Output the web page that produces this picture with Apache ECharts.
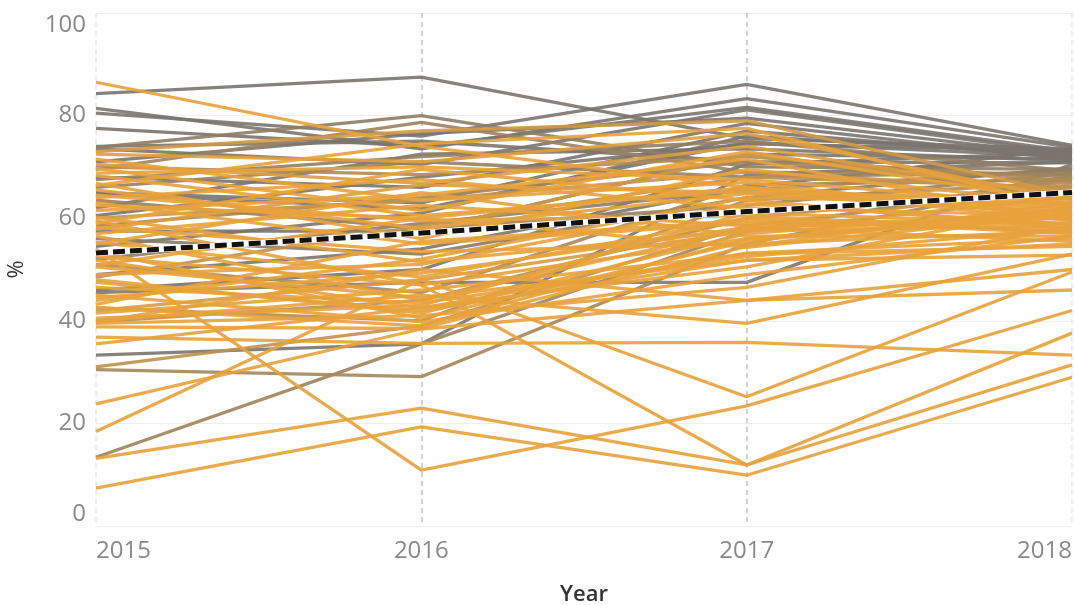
<!DOCTYPE html>
<html>
<head>
<meta charset="utf-8">
<script src="https://cdn.jsdelivr.net/npm/echarts@6/dist/echarts.min.js"></script>
<style>
  html, body { margin: 0; padding: 0; background: #fff; }
  #chart { width: 1074px; height: 605px; }
</style>
</head>
<body>
<div id="chart"></div>
<script>
// Category axis
const years = ['2015', '2016', '2017', '2018'];
// Value axis ticks (%)
const yTicks = [0, 20, 40, 60, 80, 100];
// Average across all entities, per year (%)
const avgLine = [53.2, 57.1, 61.3, 65.0];

// One row per entity: [2015, 2016, 2017, 2018] (%)
const lines = [
  [84.3, 87.5, 75.5, 73.5],
  [80.5, 76.0, 86.1, 74.2],
  [81.4, 73.5, 83.3, 73.8],
  [77.5, 74.0, 81.6, 73.0],
  [73.5, 70.5, 81.1, 72.6],
  [71.0, 76.5, 79.5, 72.2],
  [65.0, 63.0, 77.0, 71.8],
  [60.5, 68.0, 74.5, 73.2],
  [57.5, 57.5, 72.5, 71.5],
  [46.0, 50.0, 70.5, 72.8],
  [45.5, 47.5, 47.5, 70.5],
  [33.3, 35.5, 68.5, 71.0],
  [30.5, 29.1, 55.0, 67.8],
  [13.4, 35.5, 57.5, 68.2],
  [62.0, 72.5, 73.5, 71.2],
  [54.5, 61.0, 76.0, 72.4],
  [49.0, 54.0, 66.0, 73.6],
  [68.0, 66.0, 78.5, 71.4],
  [74.0, 75.0, 71.0, 70.8],
  [64.8, 61.8, 74.8, 72.0],
  [73.8, 80.0, 70.0, 69.5],
  [69.5, 78.7, 69.0, 68.5],
  [66.0, 71.0, 68.0, 69.0],
  [58.5, 64.0, 71.0, 68.0],
  [51.0, 45.5, 66.5, 67.5],
  [42.5, 40.0, 63.5, 67.0],
  [39.8, 44.0, 60.0, 66.5],
  [31.0, 39.0, 58.5, 66.0],
  [56.0, 53.0, 64.0, 69.8],
  [63.5, 58.0, 62.5, 68.8],
  [67.5, 72.0, 75.0, 69.2],
  [70.0, 68.5, 72.0, 67.2],
  [60.0, 63.5, 69.0, 65.5],
  [52.0, 59.0, 65.5, 69.5],
  [48.5, 58.5, 68.0, 66.0],
  [86.5, 74.0, 66.0, 62.0],
  [73.0, 77.0, 79.0, 64.5],
  [72.5, 71.0, 76.5, 63.5],
  [70.5, 66.8, 74.0, 64.0],
  [69.7, 61.5, 73.0, 63.0],
  [68.8, 70.0, 67.5, 62.5],
  [68.3, 60.5, 65.5, 61.5],
  [66.4, 74.5, 77.5, 62.0],
  [65.5, 58.0, 64.8, 61.0],
  [64.0, 67.5, 62.0, 60.5],
  [63.0, 55.0, 59.0, 60.0],
  [61.5, 64.5, 71.5, 59.5],
  [60.2, 51.5, 57.6, 58.5],
  [59.0, 69.5, 63.5, 58.0],
  [58.2, 53.5, 55.0, 57.5],
  [57.0, 62.5, 58.5, 59.0],
  [55.3, 48.5, 60.0, 57.0],
  [55.0, 65.0, 56.5, 56.5],
  [51.8, 42.5, 53.2, 56.0],
  [50.8, 60.0, 54.3, 60.8],
  [50.5, 44.5, 51.8, 55.0],
  [49.0, 51.0, 62.8, 58.8],
  [48.0, 41.5, 57.0, 61.5],
  [44.0, 52.0, 64.0, 62.8],
  [43.2, 55.5, 59.5, 57.8],
  [42.6, 39.0, 56.0, 60.2],
  [41.5, 46.0, 53.0, 54.5],
  [40.5, 43.0, 61.0, 59.0],
  [39.8, 50.0, 44.0, 46.0],
  [38.8, 38.5, 54.5, 63.0],
  [36.8, 35.6, 35.8, 33.3],
  [23.8, 38.4, 44.0, 50.0],
  [18.4, 48.0, 25.2, 49.5],
  [13.2, 23.0, 11.9, 31.4],
  [7.4, 19.3, 9.9, 29.0],
  [52.5, 47.0, 11.9, 37.6],
  [54.0, 10.9, 23.4, 42.0],
  [40.0, 45.0, 39.5, 53.0],
  [47.5, 42.0, 51.8, 52.8],
  [44.5, 49.3, 58.2, 55.5],
  [71.5, 63.5, 67.0, 60.0],
  [66.8, 56.0, 69.5, 62.8],
  [64.5, 59.5, 60.5, 57.2],
  [57.8, 66.5, 65.0, 63.8],
  [53.0, 57.5, 72.5, 64.8],
  [62.5, 60.0, 66.0, 59.5],
  [59.5, 47.0, 56.0, 61.0],
  [56.5, 44.0, 58.0, 60.5],
  [53.5, 40.5, 55.5, 62.0],
  [46.5, 43.5, 52.5, 58.0],
  [45.0, 39.8, 49.0, 56.5],
  [42.0, 48.0, 57.5, 64.2],
  [39.5, 41.0, 46.5, 58.5],
  [35.5, 42.5, 50.5, 62.3]
];

// Line colour runs from orange (low latest value) to warm grey (high latest value)
const ORANGE = [232, 162, 60];
const GREY = [122, 116, 110];
function tone(latest) {
  const t = Math.min(1, Math.max(0, (latest - 63) / (71 - 63)));
  const c = ORANGE.map((o, i) => Math.round(o + (GREY[i] - o) * t));
  return 'rgb(' + c.join(',') + ')';
}

const ordered = lines.slice().sort((a, b) => b[3] - a[3]);
const series = ordered.map((row) => ({
  type: 'line',
  data: row,
  showSymbol: false,
  silent: true,
  z: 2,
  lineStyle: { width: 3.3, color: tone(row[3]), opacity: 0.9 }
}));

// Average line: white underlay with black dashes on top
series.push({
  type: 'line', data: avgLine, showSymbol: false, silent: true, z: 5,
  lineStyle: { width: 6, color: '#ffffff' }
});
series.push({
  type: 'line', data: avgLine, showSymbol: false, silent: true, z: 6,
  lineStyle: { width: 5, color: '#111111', type: [12, 5] }
});

const FONT = '"Open Sans", "Noto Sans", sans-serif';
const chart = echarts.init(document.getElementById('chart'), null, { renderer: 'canvas' });
chart.setOption({
  animation: false,
  backgroundColor: '#ffffff',
  grid: { left: 96, right: 2, top: 13, bottom: 79, containLabel: false, outerBoundsMode: 'none' },
  xAxis: {
    type: 'category',
    data: years,
    boundaryGap: false,
    name: 'Year',
    nameLocation: 'middle',
    nameGap: 58,
    nameTextStyle: { fontFamily: FONT, fontSize: 22, fontWeight: 600, color: '#333333' },
    axisLine: { show: false },
    axisTick: { show: false },
    axisLabel: {
      fontFamily: FONT, fontSize: 24, color: '#8a8a8a', margin: 13,
      alignMinLabel: 'left', alignMaxLabel: 'right'
    },
    splitLine: {
      show: true,
      lineStyle: { color: ['#e6e6e6', '#c4c4c4', '#c4c4c4', '#e6e6e6'], width: 1.5, type: [5, 4] }
    }
  },
  yAxis: {
    type: 'value',
    min: yTicks[0],
    max: yTicks[yTicks.length - 1],
    interval: yTicks[1] - yTicks[0],
    name: '%',
    nameLocation: 'middle',
    nameGap: 68,
    nameRotate: 90,
    nameTextStyle: { fontFamily: FONT, fontSize: 22, color: '#333333' },
    axisLine: { show: false },
    axisTick: { show: false },
    axisLabel: {
      fontFamily: FONT, fontSize: 24, color: '#8a8a8a', margin: 10,
      verticalAlignMinLabel: 'bottom', verticalAlignMaxLabel: 'top'
    },
    splitLine: { show: true, lineStyle: { color: '#efefef', width: 1 } }
  },
  series: series
});
</script>
</body>
</html>
